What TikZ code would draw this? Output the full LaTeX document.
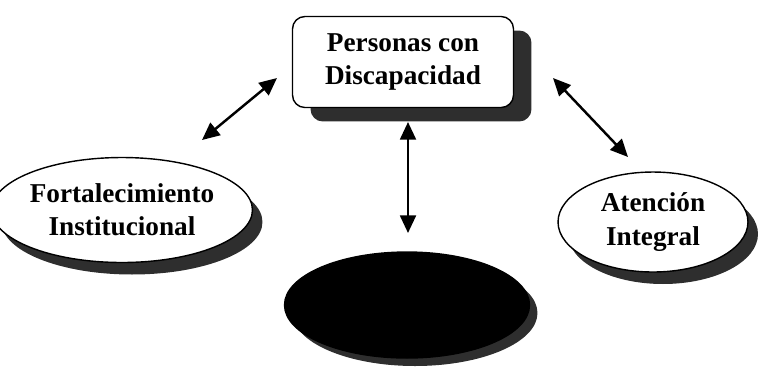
\documentclass[tikz,border=0pt]{standalone}
\usepackage{fontspec}
\setmainfont{Liberation Serif}
\usetikzlibrary{arrows.meta, shapes.geometric, shadows}

\begin{document}
\begin{tikzpicture}[
    x=0.02cm, y=-0.02cm,
    font=\fontsize{15.5}{19}\selectfont\bfseries,
    shade/.style={drop shadow={shadow xshift=0.36cm, shadow yshift=-0.28cm,
                  fill=black!82, opacity=1}},
    ovalshade/.style={drop shadow={shadow xshift=0.2cm, shadow yshift=-0.24cm,
                  fill=black!82, opacity=1}},
    topbox/.style={draw, thick, rounded corners=7pt, fill=white, align=center,
                   minimum width=4.42cm, minimum height=1.82cm, inner sep=0pt},
    oval/.style={ellipse, draw, thick, fill=white, align=center, inner sep=0pt},
    ar/.style={{Triangle[length=10pt,width=9pt]}-{Triangle[length=10pt,width=9pt]},
               line width=1.4pt}
]
\useasboundingbox (0,0) rectangle (766,370);
% central box
\node[topbox, shade] (pers) at (403,62) {Personas con\\Discapacidad};
% three ovals
\node[oval, ovalshade, minimum width=4.4cm, minimum height=2.1cm]
      (fort) at (122,210) {Fortalecimiento\\Institucional};
\node[oval, ovalshade, minimum width=3.8cm, minimum height=2.0cm]
      (aten) at (653,222) {Atención\\Integral};
\node[oval, minimum width=4.9cm, minimum height=2.12cm, fill=black,
      drop shadow={shadow xshift=0.16cm, shadow yshift=-0.16cm, fill=black!82, opacity=1}]
      (bot) at (407,305) {};
% arrow ends
\coordinate (l1) at (277,78);  \coordinate (l2) at (202,140);
\coordinate (m1) at (408,122); \coordinate (m2) at (408,233);
\coordinate (r1) at (553,78);  \coordinate (r2) at (628,157);
\foreach \a/\b in {l1/l2, m1/m2, r1/r2}
   \draw[ar] (\a) -- (\b);
\end{tikzpicture}
\end{document}
